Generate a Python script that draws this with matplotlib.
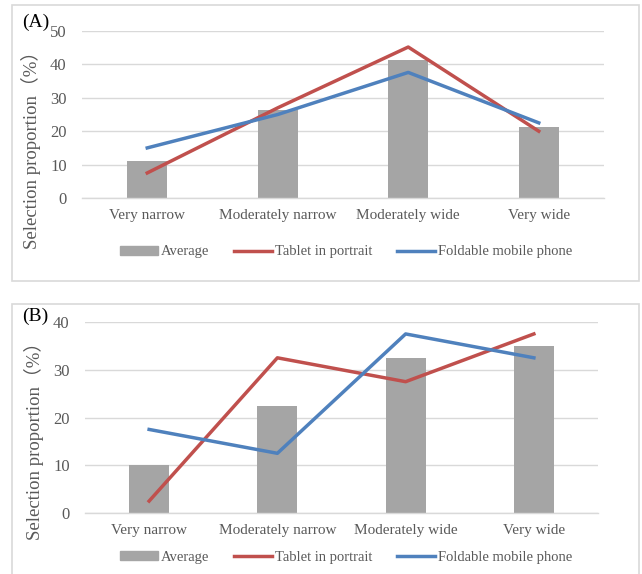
import matplotlib.pyplot as plt
from matplotlib.patches import Rectangle, Patch
from matplotlib.lines import Line2D
import numpy as np

plt.rcParams['font.family'] = ['Liberation Serif', 'Noto Sans CJK SC']

categories = ["Very narrow", "Moderately narrow", "Moderately wide", "Very wide"]

# panel A
avg_a = [11.2, 26.3, 41.2, 21.2]
tablet_a = [7.5, 27.0, 45.2, 20.0]
fold_a = [15.0, 25.0, 37.6, 22.5]

# panel B
avg_b = [10.0, 22.5, 32.5, 35.0]
tablet_b = [2.5, 32.5, 27.5, 37.5]
fold_b = [17.5, 12.5, 37.5, 32.5]

GRAY = "#A5A5A5"
RED = "#C0504D"
BLUE = "#4F81BD"
GRID = "#D9D9D9"
TXT = "#595959"

W, H = 642, 574
fig = plt.figure(figsize=(W / 100, H / 100), dpi=100)


def px(x0, y0, x1, y1):
    # pixel box (top-left origin) -> figure fraction rect
    return [x0 / W, 1 - y1 / H, (x1 - x0) / W, (y1 - y0) / H]


def panel(rect, avg, tablet, fold, ymax, tag, tag_xy, ylab_xy, leg_y):
    ax = fig.add_axes(rect)
    x = np.arange(len(categories))
    ax.bar(x, avg, width=0.31, color=GRAY, zorder=2)
    ax.plot(x, tablet, color=RED, lw=2.5, zorder=3)
    ax.plot(x, fold, color=BLUE, lw=2.5, zorder=3)
    ax.set_xlim(-0.5, len(categories) - 0.5)
    ax.set_ylim(0, ymax)
    ax.set_yticks(np.arange(0, ymax + 1, 10))
    ax.grid(axis="y", color=GRID, lw=1, zorder=0)
    for s in ["top", "right", "left"]:
        ax.spines[s].set_visible(False)
    ax.spines["bottom"].set_color(GRID)
    ax.spines["bottom"].set_linewidth(1)
    ax.tick_params(length=0, labelcolor=TXT)
    ax.tick_params(axis="x", pad=8, labelsize=11)
    ax.tick_params(axis="y", pad=11, labelsize=12)
    ax.set_xticks(x)
    ax.set_xticklabels(categories)
    ax.set_ylabel("Selection proportion（%）", fontsize=13.5, color=TXT)
    ax.yaxis.set_label_coords(ylab_xy[0] / W, 1 - ylab_xy[1] / H, transform=fig.transFigure)
    fig.text(tag_xy[0] / W, 1 - tag_xy[1] / H, tag, fontsize=14, color="black",
             ha="left", va="center")
    handles = [Patch(color=GRAY),
               Line2D([], [], color=RED, lw=2.5),
               Line2D([], [], color=BLUE, lw=2.5)]
    fig.legend(handles, ["Average", "Tablet in portrait", "Foldable mobile phone"],
               loc="center", bbox_to_anchor=(0.539, 1 - leg_y / H), ncol=3,
               frameon=False, fontsize=10.5, labelcolor=TXT, handlelength=2.6,
               handleheight=0.6, handletextpad=0.2, columnspacing=1.7)
    return ax


panel(px(82, 31, 604, 198), avg_a, tablet_a, fold_a, 50, "(A)", (22, 22), (41, 145), 252)
panel(px(85, 322, 598, 513), avg_b, tablet_b, fold_b, 40, "(B)", (22, 316), (44, 436), 557)

# outer frames of the two panels
for (x0, y0, x1, y1) in [(12, 5, 639, 281), (12, 304, 639, 580)]:
    fig.patches.append(Rectangle((x0 / W, 1 - y1 / H), (x1 - x0) / W, (y1 - y0) / H,
                                 transform=fig.transFigure, fill=False,
                                 edgecolor=GRID, lw=1.2))

fig.savefig("out.png", dpi=100)
